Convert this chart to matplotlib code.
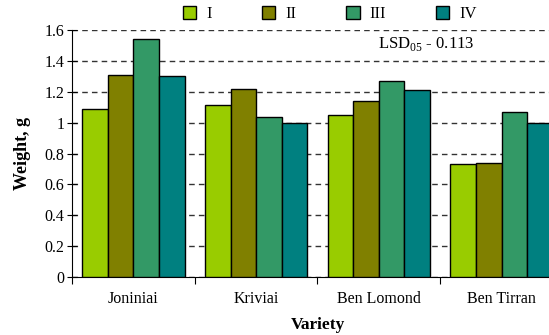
import numpy as np
import matplotlib
matplotlib.use('Agg')
import matplotlib.pyplot as plt
from matplotlib.ticker import FormatStrFormatter, FixedLocator, NullFormatter

plt.rcParams['font.family'] = 'Liberation Serif'
plt.rcParams['mathtext.fontset'] = 'custom'
plt.rcParams['mathtext.rm'] = 'Liberation Serif'

varieties = ['Joniniai', 'Kriviai', 'Ben Lomond', 'Ben Tirran']
series = ['I', 'II', 'III', 'IV']
w_I = [1.09, 1.115, 1.05, 0.73]
w_II = [1.31, 1.22, 1.14, 0.74]
w_III = [1.54, 1.035, 1.27, 1.07]
w_IV = [1.30, 0.995, 1.21, 1.0]
colors = ['#99CC00', '#808000', '#339966', '#008080']

fig = plt.figure(figsize=(5.49, 3.35), dpi=100)
ax = fig.add_axes([72/549, 58/335, 491/549, 247/335])

x = np.arange(len(varieties))
bw = 0.2085
for i, vals in enumerate([w_I, w_II, w_III, w_IV]):
    ax.bar(x + (i - 1.5)*bw, vals, bw, color=colors[i], edgecolor='black',
           linewidth=1, label=series[i], zorder=3)

ax.set_xlim(-0.5, 3.5)
ax.set_ylim(0, 1.6)
ax.set_yticks(np.arange(0, 1.61, 0.2))
ax.yaxis.set_major_formatter(FormatStrFormatter('%g'))
ax.yaxis.grid(True, linestyle=(0, (4, 3)), color='#333333', linewidth=1, zorder=0)
ax.tick_params(axis='y', direction='inout', length=7, labelsize=11.5, pad=2)

# ticks at category borders, labels in the middle
ax.xaxis.set_major_locator(FixedLocator(np.arange(-0.5, 4, 1)))
ax.xaxis.set_major_formatter(NullFormatter())
ax.xaxis.set_minor_locator(FixedLocator(x))
ax.set_xticklabels(varieties, minor=True)
ax.tick_params(axis='x', which='major', direction='out', length=5)
ax.tick_params(axis='x', which='minor', length=0, labelsize=11.5, pad=10)

for s in ['top', 'right']:
    ax.spines[s].set_visible(False)

ax.set_ylabel('Weight, g', fontsize=13, fontweight='bold', labelpad=10)
ax.set_xlabel('Variety', fontsize=12.5, fontweight='bold', labelpad=7)

fig.text(426/549, 1 - 44/335, 'LSD$_{05}$ - 0.113', fontsize=12,
         ha='center', va='center')

ax.legend(loc='center', bbox_to_anchor=(330/549, 1 - 14/335),
          bbox_transform=fig.transFigure, ncol=4, frameon=False,
          fontsize=12, handlelength=0.8, handleheight=0.8,
          columnspacing=3.0, handletextpad=0.6)

fig.savefig('out.png', dpi=100)
